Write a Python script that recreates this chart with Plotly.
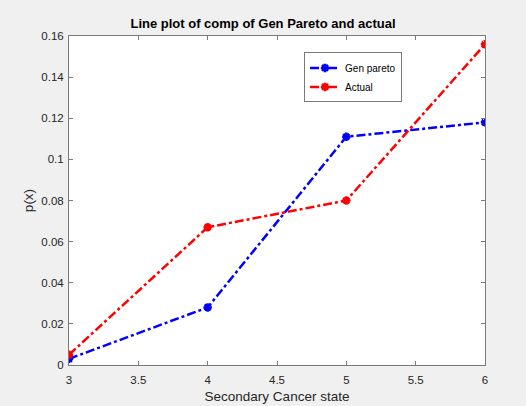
import plotly.graph_objects as go

states = [3, 4, 5, 6]
gen_pareto = [0.003, 0.028, 0.111, 0.118]
actual = [0.005, 0.067, 0.080, 0.156]
x_ticks = [3, 3.5, 4, 4.5, 5, 5.5, 6]
x_tick_text = ["3", "3.5", "4", "4.5", "5", "5.5", "6"]
y_ticks = [0, 0.02, 0.04, 0.06, 0.08, 0.1, 0.12, 0.14, 0.16]
y_tick_text = ["0", "0.02", "0.04", "0.06", "0.08", "0.1", "0.12", "0.14", "0.16"]

font = "Liberation Sans, Arial, sans-serif"

fig = go.Figure()
fig.add_trace(go.Scatter(
    x=states, y=gen_pareto, name="Gen pareto", mode="lines+markers",
    line=dict(color="#0000ff", width=2.5, dash="dashdot"),
    marker=dict(symbol="asterisk-open", size=7, color="#0000ff",
                line=dict(color="#0000ff", width=2.5)),
))
fig.add_trace(go.Scatter(
    x=states, y=actual, name="Actual", mode="lines+markers",
    line=dict(color="#ff0000", width=2.5, dash="dashdot"),
    marker=dict(symbol="asterisk-open", size=7, color="#ff0000",
                line=dict(color="#ff0000", width=2.5)),
))

axis_common = dict(
    showgrid=False, zeroline=False, showline=True, linecolor="#7a7a7a",
    linewidth=1, mirror="ticks", ticks="inside", ticklen=4, automargin=False,
    tickcolor="#7a7a7a", tickfont=dict(family=font, size=11.5, color="#262626"),
)

fig.update_layout(
    width=526, height=406,
    margin=dict(l=69, r=41, t=36, b=41),
    paper_bgcolor="#f0f0f0", plot_bgcolor="#ffffff",
    font=dict(family=font, color="#262626"),
    title=dict(text="<b>Line plot of comp of Gen Pareto and actual</b>",
               x=0.5, xanchor="center", y=1 - 23 / 406, yanchor="middle",
               font=dict(family=font, size=13, color="#000000")),
    xaxis=dict(range=[3, 6], tickvals=x_ticks, ticktext=x_tick_text,
               ticklabelstandoff=4,
               title=dict(text="Secondary Cancer state", standoff=6,
                          font=dict(family=font, size=13.5, color="#262626")),
               **axis_common),
    yaxis=dict(range=[0, 0.16], tickvals=y_ticks, ticktext=y_tick_text,
               ticklabelstandoff=2,
               title=dict(text="p(x)", standoff=4,
                          font=dict(family=font, size=13.5, color="#262626")),
               **axis_common),
    legend=dict(x=0.565, y=0.95, xanchor="left", yanchor="top",
                bgcolor="#ffffff", bordercolor="#7a7a7a", borderwidth=1,
                font=dict(family=font, size=10, color="#000000"),
                itemwidth=30, tracegroupgap=0),
    showlegend=True,
)

fig.write_html("out.html")
